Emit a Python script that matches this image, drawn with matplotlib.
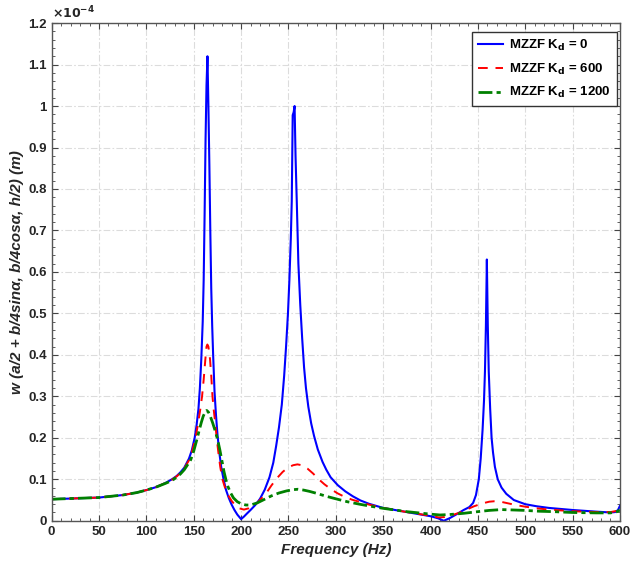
import matplotlib
matplotlib.use("Agg")
import matplotlib.pyplot as plt
from matplotlib.ticker import MultipleLocator, FuncFormatter

plt.rcParams['font.family'] = ['Liberation Sans', 'DejaVu Sans']

# Kd = 0 (values in units of 1e-4 m)
f_kd0 = [0, 25, 50, 75, 90, 100, 110, 120, 127, 132, 136, 140, 145, 148, 151, 153, 155,
         156.5, 158, 159.5, 160.5, 161.5, 162.5, 163.5, 164.5, 165.5, 166.5, 167.5, 168.5,
         169.5, 170.5, 172, 173.5, 175, 177, 179, 181.5, 184, 187, 190, 193, 196, 200,
         203, 206, 210, 215, 220, 225, 230, 234, 237, 240, 243, 245.5, 247.5, 249.5, 251,
         252.5, 253.5, 254.5, 255.5, 256.5, 257.5, 258.8, 260.5, 262.5, 264.5, 266.5,
         268.5, 271, 274, 277, 281, 286, 290, 294.5, 302, 310, 318, 326, 335, 350, 375,
         400, 408, 414, 420, 427, 435, 441, 445, 448, 451, 453, 455, 456.5, 457.5, 458.5,
         459.5, 460.5, 461.5, 463, 464.5, 466, 468, 471, 475, 480, 488, 500, 512, 525,
         550, 575, 590, 595, 598, 600]
w_kd0 = [0.052, 0.054, 0.056, 0.062, 0.068, 0.074, 0.081, 0.091, 0.100, 0.108, 0.117,
         0.128, 0.150, 0.170, 0.200, 0.230, 0.270, 0.320, 0.390, 0.480, 0.580, 0.740,
         0.920, 1.050, 1.120, 1.000, 0.860, 0.700, 0.560, 0.470, 0.400, 0.310, 0.255,
         0.210, 0.165, 0.130, 0.100, 0.075, 0.055, 0.039, 0.026, 0.015, 0.004, 0.010,
         0.017, 0.026, 0.038, 0.053, 0.075, 0.105, 0.140, 0.180, 0.225, 0.280, 0.350,
         0.420, 0.500, 0.580, 0.680, 0.770, 0.978, 0.985, 1.000, 0.880, 0.770, 0.620,
         0.520, 0.440, 0.370, 0.320, 0.275, 0.235, 0.205, 0.172, 0.142, 0.123, 0.105,
         0.086, 0.071, 0.059, 0.049, 0.041, 0.031, 0.021, 0.011, 0.006, 0.000, 0.006,
         0.015, 0.026, 0.033, 0.043, 0.062, 0.100, 0.150, 0.220, 0.290, 0.360, 0.470,
         0.630, 0.470, 0.360, 0.270, 0.200, 0.165, 0.130, 0.100, 0.080, 0.065, 0.050,
         0.040, 0.035, 0.031, 0.026, 0.022, 0.020, 0.021, 0.026, 0.036]

# Kd = 600
f_kd600 = [0, 25, 50, 75, 90, 100, 110, 120, 127, 132, 136, 140, 145, 148, 152, 155, 157,
           158.8, 160.5, 162.3, 163.5, 164.4, 165.5, 167.2, 168.5, 169.8, 171, 172.5,
           174.2, 176, 178, 180.3, 183, 186, 190, 194, 198, 203, 208, 213, 217, 222, 227,
           232, 238, 244, 250, 255, 259.5, 264, 270, 276, 282, 288, 295, 302, 310, 317,
           323, 335, 350, 375, 400, 409, 415, 422, 430, 438, 446, 455, 462, 467, 474, 482,
           490, 500, 512, 525, 550, 575, 590, 597, 600]
w_kd600 = [0.052, 0.054, 0.056, 0.062, 0.068, 0.074, 0.081, 0.091, 0.099, 0.107, 0.115,
           0.126, 0.146, 0.165, 0.200, 0.240, 0.270, 0.300, 0.340, 0.390, 0.420, 0.425,
           0.420, 0.390, 0.350, 0.300, 0.270, 0.240, 0.200, 0.165, 0.130, 0.100, 0.080,
           0.063, 0.048, 0.037, 0.030, 0.027, 0.030, 0.036, 0.043, 0.055, 0.068, 0.085,
           0.103, 0.118, 0.129, 0.134, 0.136, 0.134, 0.126, 0.114, 0.100, 0.088, 0.076,
           0.066, 0.057, 0.051, 0.047, 0.039, 0.031, 0.021, 0.012, 0.008, 0.009, 0.013,
           0.019, 0.027, 0.035, 0.042, 0.046, 0.047, 0.046, 0.042, 0.038, 0.034, 0.030,
           0.027, 0.023, 0.021, 0.021, 0.024, 0.028]

# Kd = 1200
f_kd1200 = [0, 25, 50, 75, 90, 100, 110, 120, 127, 132, 136, 140, 143.5, 146.8, 150, 153.8,
            156, 158, 160, 162, 163.7, 165.5, 167.5, 170, 172.5, 175, 177.5, 180, 182, 184,
            186, 189, 192, 196, 200, 205, 210, 217, 225, 232, 240, 248, 255, 260, 266, 272,
            280, 290, 300, 312, 325, 337, 350, 375, 400, 410, 420, 435, 450, 462, 475, 488,
            500, 515, 530, 550, 575, 590, 597, 600]
w_kd1200 = [0.052, 0.054, 0.056, 0.062, 0.068, 0.074, 0.081, 0.090, 0.097, 0.105, 0.113,
            0.123, 0.135, 0.147, 0.168, 0.200, 0.220, 0.237, 0.252, 0.262, 0.266, 0.262,
            0.252, 0.236, 0.218, 0.198, 0.172, 0.142, 0.118, 0.099, 0.083, 0.067, 0.055,
            0.046, 0.041, 0.038, 0.038, 0.043, 0.052, 0.060, 0.067, 0.072, 0.075, 0.076,
            0.074, 0.071, 0.066, 0.059, 0.053, 0.046, 0.040, 0.035, 0.030, 0.022, 0.016,
            0.014, 0.015, 0.018, 0.022, 0.025, 0.027, 0.026, 0.025, 0.023, 0.022, 0.020,
            0.019, 0.019, 0.022, 0.026]

labels = [r"MZZF K$_\mathbf{d}$ = 0", r"MZZF K$_\mathbf{d}$ = 600", r"MZZF K$_\mathbf{d}$ = 1200"]

fig = plt.figure(figsize=(6.3, 5.63), dpi=100)
ax = fig.add_axes([0.082, 0.075, 0.902, 0.884])

ax.plot(f_kd0, w_kd0, color='#0000ff', lw=1.5, label=labels[0])
ax.plot(f_kd600, w_kd600, color='#ff0000', lw=1.4, ls=(0, (5, 4)), label=labels[1])
ax.plot(f_kd1200, w_kd1200, color='#008000', lw=2.0, ls=(0, (5, 1.5, 1.5, 1.5)), label=labels[2])

ax.set_xlim(0, 600)
ax.set_ylim(0, 1.2)
ax.xaxis.set_major_locator(MultipleLocator(50))
ax.xaxis.set_minor_locator(MultipleLocator(10))
ax.yaxis.set_major_locator(MultipleLocator(0.1))
ax.yaxis.set_minor_locator(MultipleLocator(0.02))
ax.yaxis.set_major_formatter(FuncFormatter(lambda v, p: ('%g' % round(v, 2))))

ax.tick_params(which='both', direction='in', top=True, right=True, colors='#444444',
               labelcolor='#262626', labelsize=9.5)
ax.tick_params(which='major', length=4, width=0.8)
ax.tick_params(which='minor', length=2.5, width=0.6)
for lab in ax.get_xticklabels() + ax.get_yticklabels():
    lab.set_fontweight('bold')
for s in ax.spines.values():
    s.set_color('#555555')
    s.set_linewidth(1.0)

ax.grid(True, which='major', color='#dcdcdc', ls=(0, (6, 2, 1.5, 2)), lw=0.8)
ax.set_axisbelow(True)

ax.set_xlabel('Frequency (Hz)', fontsize=11, fontweight='bold', fontstyle='italic', color='#262626')
ax.set_ylabel('w (a/2 + b/4sinα, b/4cosα, h/2) (m)', fontsize=11, fontweight='bold',
              fontstyle='italic', color='#262626', labelpad=3)

ax.text(0.0, 1.004, r'$\mathbf{\times 10^{-4}}$', transform=ax.transAxes, fontsize=9,
        ha='left', va='bottom', color='#262626')

leg = ax.legend(loc='upper right', bbox_to_anchor=(0.995, 0.982), borderaxespad=0,
                fancybox=False, framealpha=1, edgecolor='#333333',
                prop={'weight': 'bold', 'size': 9.5},
                handlelength=1.9, handletextpad=0.5, borderpad=0.45, labelspacing=0.65)
leg.get_frame().set_linewidth(1.0)

fig.savefig('out.png', dpi=100)
